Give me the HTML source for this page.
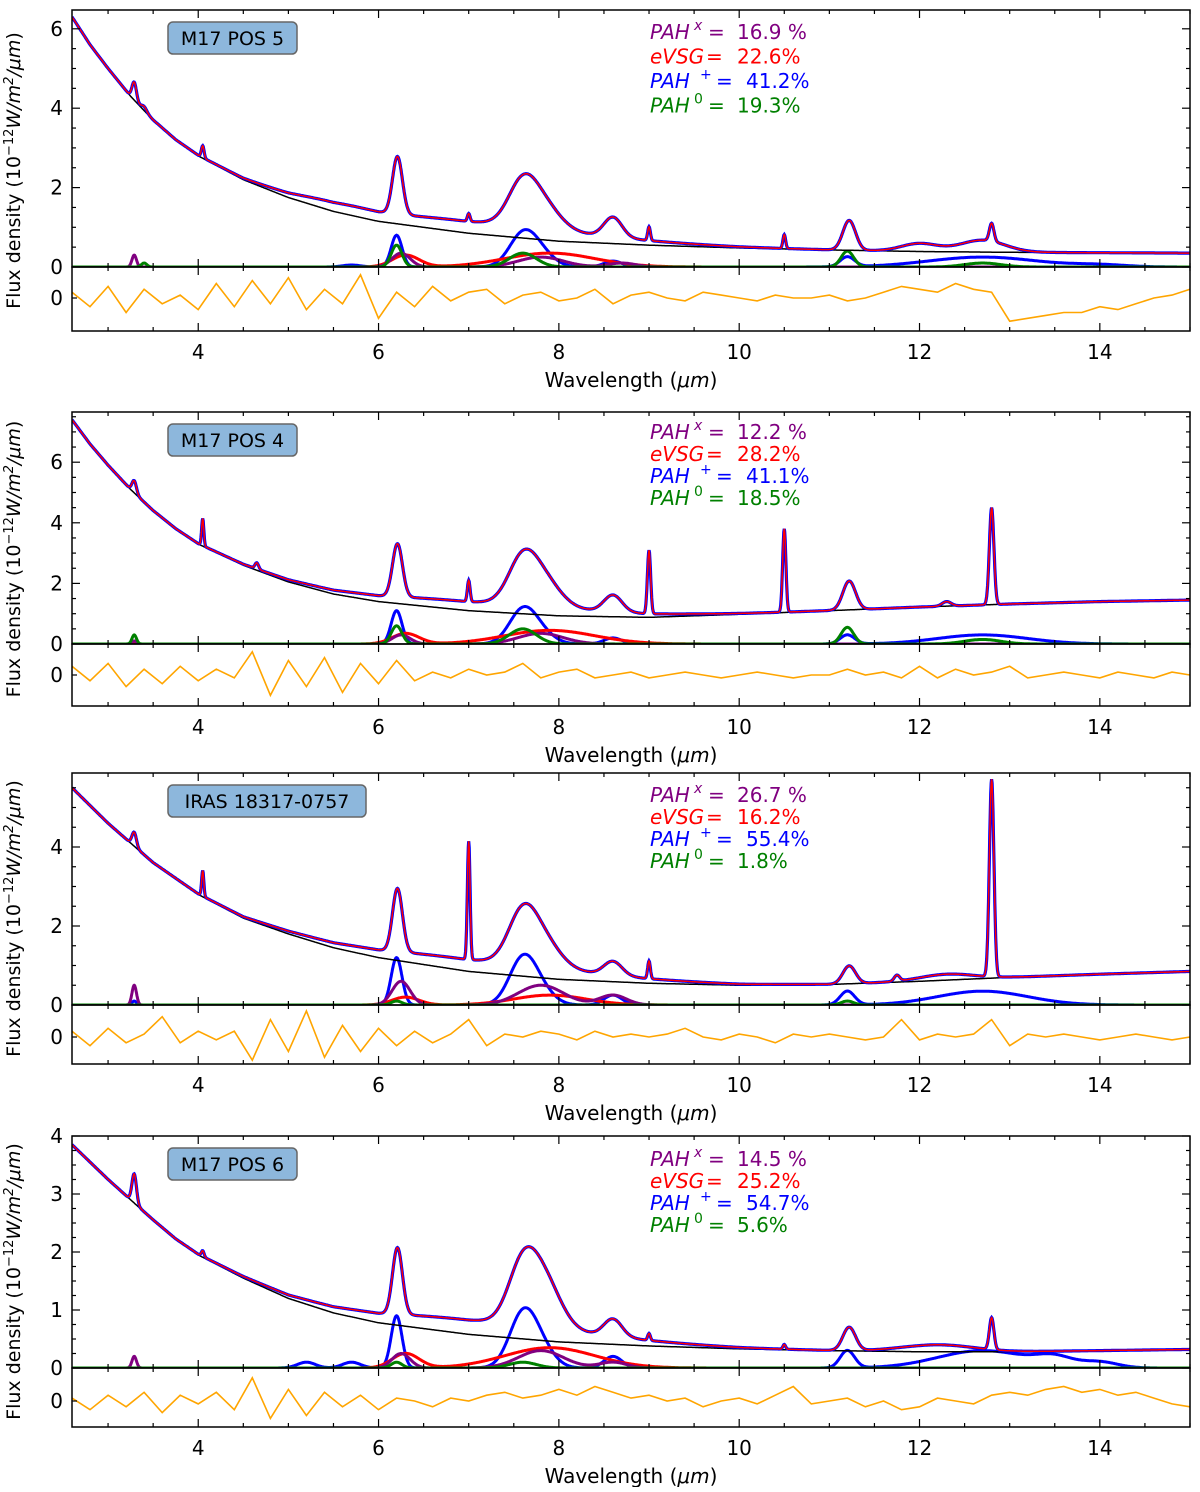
<!DOCTYPE html>
<html><head><meta charset="utf-8"><style>
body{margin:0;background:#fff;}
svg text{font-family:"DejaVu Sans","Liberation Sans",sans-serif;}
</style></head><body>
<svg id="chart" width="1200" height="1487" viewBox="0 0 1200 1487" xmlns="http://www.w3.org/2000/svg"></svg>
<script>
// ---------- data ----------
const xTicks = [4,6,8,10,12,14];
const contWl = [2.6,2.8,3.0,3.25,3.5,3.75,4.0,4.5,5.0,5.5,6.0,7.0,8.0,9.0,10.0,11.0,12.0,13.0,14.0,15.0];
// panel 1: M17 POS 5
const p1Cont = [6.3,5.6,5.0,4.3,3.7,3.2,2.8,2.2,1.75,1.4,1.15,0.85,0.65,0.55,0.48,0.43,0.39,0.37,0.36,0.35];
const p1Lines = [[3.29,0.45,0.025],[3.4,0.1,0.03],[4.05,0.3,0.015],[6.21,1.45,0.055],[7.0,0.2,0.015],[7.6,1.1,0.16],[7.85,0.55,0.18],[8.6,0.5,0.1],[9.0,0.35,0.015],[10.5,0.35,0.015],[11.22,0.75,0.07],[12.0,0.2,0.2],[12.7,0.3,0.25],[12.8,0.45,0.025],[7.2,0.3,1.3],[5.5,0.1,0.4]];
const p1PahPlus = [[5.7,0.05,0.1],[6.2,0.8,0.06],[7.6,0.8,0.15],[7.8,0.3,0.15],[8.6,0.15,0.1],[11.2,0.25,0.08],[12.7,0.25,0.6],[14.0,0.05,0.3]];
const p1Evsg = [[6.3,0.3,0.15],[7.9,0.35,0.5]];
const p1PahX = [[3.29,0.3,0.025],[6.25,0.35,0.1],[7.8,0.25,0.25],[8.7,0.1,0.15]];
const p1Pah0 = [[3.4,0.1,0.03],[6.2,0.55,0.06],[7.6,0.35,0.15],[11.2,0.4,0.07],[12.7,0.1,0.2]];
const p1Res = [0.2,-0.3,0.4,-0.5,0.3,-0.2,0.1,-0.4,0.5,-0.3,0.6,-0.2,0.7,-0.4,0.3,-0.2,0.8,-0.7,0.2,-0.3,0.4,-0.1,0.2,0.3,-0.2,0.1,0.2,-0.1,0.0,0.3,-0.2,0.1,0.2,0.0,-0.1,0.2,0.1,0.0,-0.1,0.1,0.0,0.0,0.1,-0.1,0.0,0.2,0.4,0.3,0.2,0.5,0.3,0.2,-0.8,-0.7,-0.6,-0.5,-0.5,-0.3,-0.4,-0.2,0.0,0.1,0.3];
// panel 2: M17 POS 4
const p2Cont = [7.4,6.6,5.9,5.1,4.4,3.8,3.3,2.6,2.05,1.65,1.4,1.1,0.93,0.88,0.98,1.1,1.22,1.32,1.4,1.45];
const p2Lines = [[3.29,0.4,0.025],[4.05,0.9,0.012],[4.65,0.2,0.02],[6.21,1.75,0.055],[7.0,0.7,0.015],[7.6,1.5,0.16],[7.85,0.8,0.18],[8.6,0.55,0.1],[9.0,2.1,0.018],[10.5,2.75,0.018],[11.22,0.95,0.07],[12.3,0.15,0.05],[12.8,3.2,0.025],[7.2,0.3,1.3]];
const p2PahPlus = [[6.2,1.1,0.06],[7.6,1.1,0.15],[7.8,0.3,0.15],[8.6,0.2,0.1],[11.2,0.3,0.08],[12.7,0.3,0.5]];
const p2Evsg = [[6.3,0.35,0.15],[7.9,0.45,0.5]];
const p2PahX = [[3.29,0.1,0.025],[6.25,0.3,0.1],[7.8,0.35,0.25]];
const p2Pah0 = [[3.29,0.3,0.025],[6.2,0.6,0.06],[7.6,0.5,0.15],[11.2,0.55,0.07],[12.7,0.15,0.2]];
const p2Res = [0.3,-0.2,0.4,-0.4,0.2,-0.3,0.3,-0.2,0.2,-0.1,0.8,-0.7,0.5,-0.4,0.6,-0.6,0.4,-0.3,0.5,-0.2,0.1,-0.1,0.2,0.0,0.1,0.4,-0.1,0.1,0.2,-0.1,0.0,0.1,-0.1,0.0,0.1,0.0,-0.1,0.0,0.1,0.0,-0.1,0.0,0.0,0.2,0.0,0.1,-0.1,0.3,-0.1,0.2,0.0,0.1,0.3,-0.1,0.0,0.1,0.0,-0.1,0.1,0.0,-0.1,0.1,0.0];
// panel 3: IRAS 18317-0757
const p3Cont = [5.5,5.05,4.6,4.1,3.6,3.2,2.8,2.2,1.8,1.45,1.2,0.85,0.65,0.55,0.5,0.52,0.6,0.7,0.78,0.85];
const p3Lines = [[3.29,0.35,0.025],[4.05,0.65,0.012],[6.21,1.6,0.055],[7.0,3.0,0.015],[7.6,1.3,0.16],[7.85,0.6,0.18],[8.6,0.35,0.1],[9.0,0.45,0.015],[11.22,0.45,0.07],[11.75,0.15,0.03],[12.3,0.15,0.3],[12.8,5.0,0.025],[7.2,0.3,1.3]];
const p3PahPlus = [[3.29,0.1,0.025],[6.2,1.2,0.06],[7.6,1.15,0.15],[7.8,0.3,0.15],[8.6,0.25,0.1],[11.2,0.35,0.08],[12.7,0.35,0.5]];
const p3Evsg = [[6.3,0.2,0.15],[7.9,0.25,0.4]];
const p3PahX = [[3.29,0.5,0.025],[6.25,0.6,0.1],[7.8,0.5,0.25],[8.6,0.25,0.15]];
const p3Pah0 = [[6.2,0.1,0.06],[11.2,0.1,0.07]];
const p3Res = [0.2,-0.3,0.3,-0.2,0.1,0.7,-0.2,0.2,-0.1,0.2,-0.8,0.6,-0.5,0.9,-0.7,0.4,-0.5,0.3,-0.3,0.2,-0.2,0.1,0.6,-0.3,0.1,0.0,0.2,0.1,-0.1,0.2,0.0,0.1,0.0,0.1,0.3,0.0,-0.1,0.1,0.0,-0.2,0.1,0.0,0.1,0.0,-0.1,0.0,0.6,-0.1,0.1,0.0,0.1,0.6,-0.3,0.1,0.0,0.1,0.0,-0.1,0.0,0.1,0.0,-0.1,0.0];
// panel 4: M17 POS 6
const p4Cont = [3.85,3.55,3.25,2.9,2.55,2.22,1.95,1.55,1.2,0.95,0.78,0.58,0.45,0.38,0.33,0.3,0.28,0.28,0.3,0.32];
const p4Lines = [[3.29,0.5,0.025],[4.05,0.1,0.015],[6.21,1.15,0.055],[7.6,1.0,0.16],[7.85,0.75,0.18],[8.6,0.3,0.1],[9.0,0.12,0.015],[10.5,0.08,0.015],[11.22,0.4,0.07],[12.2,0.12,0.4],[12.8,0.55,0.025],[7.2,0.25,1.3]];
const p4PahPlus = [[5.2,0.1,0.1],[5.7,0.1,0.1],[6.2,0.9,0.06],[7.6,0.9,0.15],[7.8,0.3,0.15],[8.6,0.2,0.1],[11.2,0.3,0.08],[12.7,0.3,0.5],[13.5,0.15,0.2],[14.0,0.1,0.2]];
const p4Evsg = [[6.3,0.25,0.15],[7.9,0.35,0.5]];
const p4PahX = [[3.29,0.2,0.025],[6.25,0.25,0.1],[7.8,0.3,0.25],[8.6,0.1,0.15]];
const p4Pah0 = [[6.2,0.1,0.06],[7.6,0.1,0.15]];
const p4Res = [0.1,-0.3,0.2,-0.2,0.3,-0.4,0.2,-0.1,0.3,-0.3,0.8,-0.6,0.4,-0.5,0.3,-0.2,0.2,-0.3,0.1,0.0,-0.2,0.1,0.0,0.2,0.3,0.1,0.2,0.4,0.2,0.5,0.3,0.1,0.2,0.0,0.1,-0.2,0.0,0.1,-0.1,0.2,0.5,-0.1,0.0,0.1,-0.2,0.0,-0.3,-0.2,0.1,0.0,-0.1,0.2,0.3,0.2,0.4,0.5,0.3,0.4,0.2,0.3,0.1,-0.1,-0.2];

const panels = [
 {label:'M17 POS 5', boxW:129, top:10, zero:267, k:39.7, ticks:[0,2,4,6], minor:1, resBot:331, resZero:298, cont:p1Cont, lines:p1Lines, comps:[p1PahPlus,p1Evsg,p1PahX,p1Pah0], res:p1Res, vals:['16.9 %','22.6%','41.2%','19.3%'], legY:39, legDy:24.5},
 {label:'M17 POS 4', boxW:129, top:412, zero:644, k:30.3, ticks:[0,2,4,6], minor:1, resBot:706, resZero:675, cont:p2Cont, lines:p2Lines, comps:[p2PahPlus,p2Evsg,p2PahX,p2Pah0], res:p2Res, vals:['12.2 %','28.2%','41.1%','18.5%'], legY:439, legDy:22},
 {label:'IRAS 18317-0757', boxW:198, top:773, zero:1005, k:39.5, ticks:[0,2,4], minor:1, resBot:1064, resZero:1037, cont:p3Cont, lines:p3Lines, comps:[p3PahPlus,p3Evsg,p3PahX,p3Pah0], res:p3Res, vals:['26.7 %','16.2%','55.4%','1.8%'], legY:802, legDy:22},
 {label:'M17 POS 6', boxW:129, top:1136, zero:1368, k:58, ticks:[0,1,2,3,4], minor:0.5, resBot:1427, resZero:1401, cont:p4Cont, lines:p4Lines, comps:[p4PahPlus,p4Evsg,p4PahX,p4Pah0], res:p4Res, vals:['14.5 %','25.2%','54.7%','5.6%'], legY:1166, legDy:22}
];
// ---------- drawing ----------
const NS='http://www.w3.org/2000/svg';
const svg=document.getElementById('chart');
const X0=72, X1=1190, WMIN=2.6, WMAX=15;
function xs(w){return X0+(w-WMIN)/(WMAX-WMIN)*(X1-X0);}
function mk(tag,attrs,parent){const e=document.createElementNS(NS,tag);for(const a in attrs)e.setAttribute(a,attrs[a]);(parent||svg).appendChild(e);return e;}
function interp(xa,ya,x){for(let i=0;i<xa.length-1;i++){if(x<=xa[i+1]){const t=(x-xa[i])/(xa[i+1]-xa[i]);return ya[i]+t*(ya[i+1]-ya[i]);}}return ya[ya.length-1];}
function gsum(list,w){let s=0;for(const p of list){const d=(w-p[0])/p[2];s+=p[1]*Math.exp(-0.5*d*d);}return s;}
const grid=[];for(let w=WMIN;w<=WMAX+1e-9;w+=0.005)grid.push(w);
const compColors=['#0000ff','#ff0000','#800080','#008000'];
const compNames=['pah-plus-component','evsg-component','pah-x-component','pah0-component'];
const legNames=['PAH','eVSG','PAH','PAH'];
const legSup=['x','','+','0'];
const legSupX=[694,0,700,694];
const legEqX=[708,706,716,708];
const legValX=[737,737,746,737];
const legColors=['#800080','#ff0000','#0000ff','#008000'];

panels.forEach((P,pi)=>{
  const g=mk('g',{});
  
  
  const ys=v=>P.zero-v*P.k;
  const clipId='clip'+pi;
  const cp=mk('clipPath',{id:clipId},g);mk('rect',{x:X0,y:P.top,width:X1-X0,height:P.zero-P.top},cp);
  const lg=mk('g',{'clip-path':'url(#'+clipId+')'},g);
  [0,1,2,3].forEach(ci=>{
    let d='';grid.forEach((w,i)=>{d+=(i?'L':'M')+xs(w).toFixed(1)+' '+ys(gsum(P.comps[ci],w)).toFixed(1);});
    const p=mk('path',{d:d,fill:'none',stroke:compColors[ci],'stroke-width':3},lg);
    
    
  });
  let dc='';grid.forEach((w,i)=>{dc+=(i?'L':'M')+xs(w).toFixed(1)+' '+ys(interp(contWl,P.cont,w)).toFixed(1);});
  const pc=mk('path',{d:dc,fill:'none',stroke:'#000','stroke-width':1.5},lg);
  
  
  let dt='';grid.forEach((w,i)=>{dt+=(i?'L':'M')+xs(w).toFixed(1)+' '+ys(interp(contWl,P.cont,w)+gsum(P.lines,w)).toFixed(1);});
  const po=mk('path',{d:dt,fill:'none',stroke:'#0000ff','stroke-width':3.2},lg);
  
  
  const pf=mk('path',{d:dt,fill:'none',stroke:'#ff0000','stroke-width':1.5},lg);
  
  
  const rk=29;
  let dr='';const n=P.res.length;P.res.forEach((v,i)=>{const w=WMIN+i*(WMAX-WMIN)/(n-1);dr+=(i?'L':'M')+xs(w).toFixed(1)+' '+(P.resZero-v*rk).toFixed(1);});
  const pr=mk('path',{d:dr,fill:'none',stroke:'#ffa500','stroke-width':1.6},g);
  
  
  const f1=mk('rect',{x:X0,y:P.top,width:X1-X0,height:P.zero-P.top,fill:'none',stroke:'#000','stroke-width':1.5},g);
  
  
  const f2=mk('rect',{x:X0,y:P.zero,width:X1-X0,height:P.resBot-P.zero,fill:'none',stroke:'#000','stroke-width':1.5},g);
  
  
  for(let w=3;w<=15;w+=0.5){
    const major=Math.abs(w-Math.round(w/2)*2)<1e-9, L=major?8:4, x=xs(w);
    [[P.top,1],[P.zero,-1],[P.zero,1],[P.resBot,-1]].forEach(([y,s])=>{mk('line',{x1:x,x2:x,y1:y,y2:y+s*L,stroke:'#000','stroke-width':1.2},g);});
  }
  xTicks.forEach(t=>{
    const tx=mk('text',{x:xs(t),y:P.resBot+28,'font-size':20,'text-anchor':'middle'},g);tx.textContent=t;
    
    
  });
  const xl=mk('text',{x:631,y:P.resBot+56,'font-size':20,'text-anchor':'middle'},g);
  xl.innerHTML='Wavelength (<tspan font-style="italic">μm</tspan>)';
  
  
  const ymax=(P.zero-P.top)/P.k;
  for(let v=0;v<=ymax+1e-9;v+=P.minor/2){
    const major=P.ticks.some(t=>Math.abs(t-v)<1e-9), L=major?8:4, y=ys(v);
    mk('line',{x1:X0,x2:X0+L,y1:y,y2:y,stroke:'#000','stroke-width':1.2},g);
    mk('line',{x1:X1,x2:X1-L,y1:y,y2:y,stroke:'#000','stroke-width':1.2},g);
  }
  P.ticks.forEach(t=>{
    const ty=mk('text',{x:63,y:ys(t)+7,'font-size':20,'text-anchor':'end'},g);ty.textContent=t;
    
    
  });
  const rt=mk('text',{x:63,y:P.resZero+7,'font-size':20,'text-anchor':'end'},g);rt.textContent='0';
  
  
  mk('line',{x1:X0,x2:X0+5,y1:P.resZero,y2:P.resZero,stroke:'#000','stroke-width':1.2},g);
  const cy=(P.top+P.resBot)/2;
  const yt=mk('text',{x:0,y:0,'font-size':19,'text-anchor':'middle',transform:'translate(20,'+cy+') rotate(-90)'},g);
  yt.innerHTML='Flux density (10<tspan baseline-shift="7" font-size="13">−12</tspan><tspan font-style="italic">W/m</tspan><tspan baseline-shift="7" font-size="13" font-style="italic">2</tspan><tspan font-style="italic">/μm</tspan>)';
  
  
  const lb=mk('g',{},g);
  
  
  mk('rect',{x:168,y:P.top+12,width:P.boxW,height:32,rx:5,fill:'#8db7dc',stroke:'#666','stroke-width':1.5},lb);
  const lt=mk('text',{x:168+P.boxW/2,y:P.top+35,'font-size':19,'text-anchor':'middle'},lb);lt.textContent=P.label;
  P.vals.forEach((v,li)=>{
    const y=P.legY+li*P.legDy;
    const lgE=mk('g',{fill:legColors[li],'font-size':20},g);
    
    
    const t1=mk('text',{x:650,y:y,'font-style':'italic'},lgE);t1.textContent=legNames[li];
    if(legSup[li]){const t2=mk('text',{x:legSupX[li],y:y-9,'font-size':14,'font-style':legSup[li]=='x'?'italic':'normal'},lgE);t2.textContent=legSup[li];}
    const t3=mk('text',{x:legEqX[li],y:y},lgE);t3.textContent='=';
    const t4=mk('text',{x:legValX[li],y:y},lgE);t4.textContent=v;
  });
});
</script>
</body></html>
